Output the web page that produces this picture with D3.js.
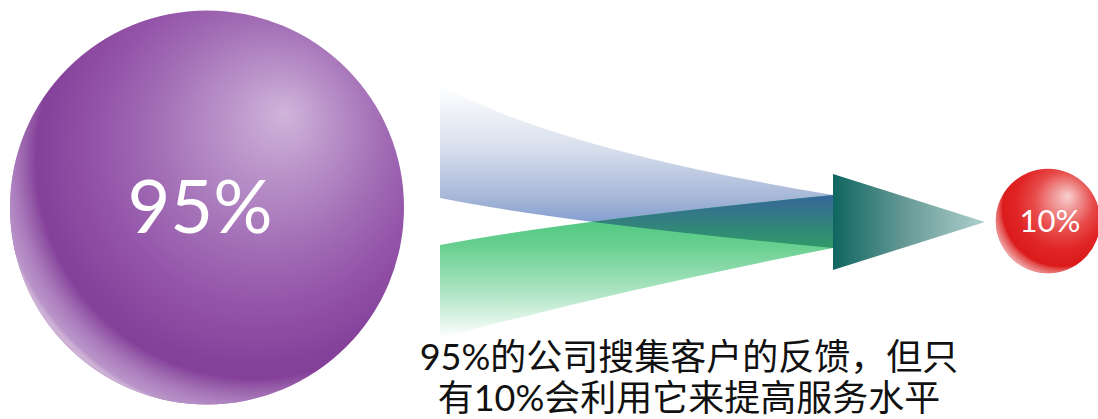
<!DOCTYPE html>
<html><head><meta charset="utf-8">
<script src="https://cdn.jsdelivr.net/npm/d3@7"></script>
<style>html,body{margin:0;padding:0;background:#fff;overflow:hidden}</style>
</head><body>
<svg id="c" width="1098" height="419"></svg>
<script>
// Data
const stages = ["收集反馈", "利用反馈"];
const values = [95, 10];
const valueLabels = ["95%", "10%"];
const captionLines = ["95%的公司搜集客户的反馈，但只", "有10%会利用它来提高服务水平"];

const svg = d3.select("#c");
const defs = svg.append("defs");

// scales
const rScale = d3.scalePow().exponent(0.59).domain([0, 95]).range([0, 197]);
const xScale = d3.scalePoint().domain(stages).range([207, 1048]);
const yCenter = d3.scaleOrdinal().domain(stages).range([207.5, 221]);

// funnel geometry scales
const fx = d3.scaleLinear().domain([0, 1]).range([440, 833]);
const fy = d3.scaleLinear().domain([0, 1]).range([85, 338]);

function lg(id, x1, y1, x2, y2, stops) {
  const g = defs.append("linearGradient").attr("id", id)
    .attr("gradientUnits", "userSpaceOnUse")
    .attr("x1", x1).attr("y1", y1).attr("x2", x2).attr("y2", y2);
  stops.forEach(s => g.append("stop").attr("offset", s[0]).attr("stop-color", s[1]).attr("stop-opacity", s[2] == null ? 1 : s[2]));
}
function rg(id, cx, cy, r, fxp, fyp, stops) {
  const g = defs.append("radialGradient").attr("id", id)
    .attr("cx", cx).attr("cy", cy).attr("r", r).attr("fx", fxp).attr("fy", fyp);
  stops.forEach(s => g.append("stop").attr("offset", s[0]).attr("stop-color", s[1]).attr("stop-opacity", s[2] == null ? 1 : s[2]));
}

// Funnel bands
const blueTop = [fx(0), fy(0)], blueTopC = [560, 150], join1 = [fx(1), 195];
const blueBot = [fx(0), 198], ctrl = [560, 222], join2 = [fx(1), 248];
const greenTop = [fx(0), 245], greenBot = [fx(0), fy(1)], greenBotC = [620, 290];

const bluePath = `M${blueTop} Q${blueTopC} ${join1} L${join2} Q${ctrl} ${blueBot} Z`;
const greenPath = `M${greenTop} Q${ctrl} ${join1} L${join2} Q${greenBotC} ${greenBot} Z`;

lg("gBlue", 0, 85, 0, 248, [["0", "#ffffff"], ["0.4", "#d6deec"], ["0.7", "#a4b5d6"], ["0.86", "#7f9ccf"], ["1", "#6587c5"]]);
lg("gGreen", 0, 205, 0, 338, [["0", "#48c67c"], ["0.3", "#66cf8f"], ["0.65", "#ace4c2"], ["1", "#ffffff"]]);
lg("gOver", 0, 195, 0, 248, [["0", "#35669a"], ["0.5", "#33807f"], ["1", "#2f9a68"]]);
lg("gArrow", 833, 0, 985, 0, [["0", "#0f6660"], ["0.5", "#6a9c99"], ["1", "#aed0ce"]]);

defs.append("clipPath").attr("id", "clipBlue").append("path").attr("d", bluePath);
defs.append("clipPath").attr("id", "clipGreen").append("path").attr("d", greenPath);

svg.append("path").attr("d", bluePath).attr("fill", "url(#gBlue)");
svg.append("path").attr("d", greenPath).attr("fill", "url(#gGreen)");
svg.append("g").attr("clip-path", "url(#clipBlue)")
  .append("rect").attr("clip-path", "url(#clipGreen)")
  .attr("x", fx(0)).attr("y", 190).attr("width", fx(1) - fx(0) + 2).attr("height", 62)
  .attr("fill", "url(#gOver)");

// arrow head
svg.append("path")
  .attr("d", `M${fx(1)},174 L${fx(1)},270 L985,222 Z`)
  .attr("fill", "url(#gArrow)");

// Spheres
rg("gPurple", "60%", "38%", "63%", "70%", "26%", [
  ["0", "#d0b4da"], ["0.2", "#bb95ca"], ["0.45", "#a36fb6"], ["0.65", "#9455a9"], ["0.85", "#86429b"], ["1", "#803d96"]]);
rg("gPurpleRim", "62%", "38%", "66%", "62%", "38%", [
  ["0", "#ffffff", 0], ["0.84", "#e6d6ee", 0], ["0.93", "#d6bde2", 0.5], ["0.985", "#cdb3da", 0.75], ["1", "#ffffff", 0.6]]);
rg("gRed", "60%", "38%", "63%", "69%", "26%", [
  ["0", "#f8d0d0"], ["0.2", "#f09494"], ["0.45", "#e84a4a"], ["0.7", "#e02424"], ["1", "#d81515"]]);
rg("gRedRim", "62%", "38%", "66%", "62%", "38%", [
  ["0", "#ffffff", 0], ["0.84", "#ffffff", 0], ["0.93", "#f6c4c4", 0.5], ["0.985", "#f4c0c0", 0.75], ["1", "#ffffff", 0.6]]);

const fills = [["url(#gPurple)", "url(#gPurpleRim)"], ["url(#gRed)", "url(#gRedRim)"]];
const balls = svg.selectAll("g.ball").data(stages).join("g").attr("class", "ball")
  .attr("transform", d => `translate(${xScale(d)},${yCenter(d)})`);
balls.append("circle").attr("r", (d, i) => rScale(values[i])).attr("fill", (d, i) => fills[i][0]);
balls.append("circle").attr("r", (d, i) => rScale(values[i])).attr("fill", (d, i) => fills[i][1]);
balls.append("text")
  .attr("text-anchor", "middle")
  .attr("dy", (d, i) => i === 0 ? 25 : 11)
  .attr("dx", (d, i) => i === 0 ? -7 : 2)
  .attr("fill", "#fff")
  .style("font-family", "Lato, 'Open Sans', sans-serif")
  .style("font-size", (d, i) => i === 0 ? "74px" : "31px")
  .text((d, i) => valueLabels[i]);

// Caption
svg.append("text")
  .attr("text-anchor", "middle")
  .style("font-family", "Lato, 'Noto Sans CJK SC', sans-serif")
  .style("font-size", "36px")
  .attr("fill", "#111")
  .selectAll("tspan").data(captionLines).join("tspan")
  .attr("x", 689)
  .attr("y", (d, i) => 370 + i * 41)
  .text(d => d);
</script>
</body></html>
